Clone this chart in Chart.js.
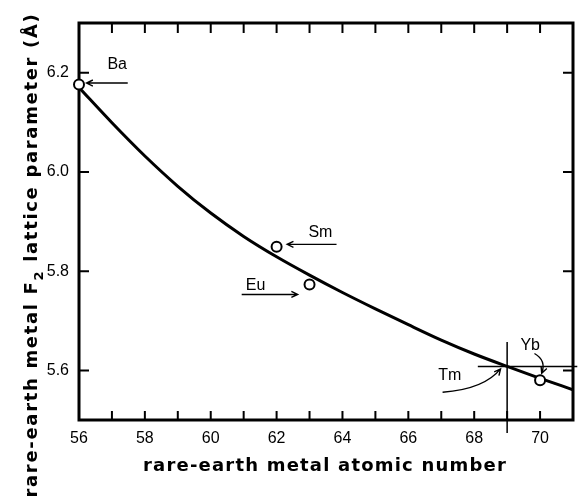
<!DOCTYPE html>
<html>
<head>
<meta charset="utf-8">
<script src="https://cdn.jsdelivr.net/npm/chart.js@4"></script>
<style>
    html, body { margin: 0; padding: 0; background: #fff; }
    canvas { display: block; }
</style>
</head>
<body>
<canvas id="chart" width="582" height="500"></canvas>
<script>
// --- Values ---
const elements = ['Ba', 'Sm', 'Eu', 'Yb'];
const atomicNumbers = [56, 62, 63, 70];
const latticeParams = [6.176, 5.849, 5.773, 5.580];

// fitted curve
const curveZ = [56, 57, 58, 59, 60, 61, 62, 63, 64, 65, 66, 67, 68, 69, 70, 71];
const curveA = [6.170, 6.099, 6.032, 5.971, 5.917, 5.870, 5.829, 5.792, 5.757, 5.724, 5.692, 5.661, 5.633, 5.608, 5.584, 5.561];

const tmZ = 69;
const tmA = 5.608;

const xTickValues = [56, 57, 58, 59, 60, 61, 62, 63, 64, 65, 66, 67, 68, 69, 70, 71];
const xTickLabels = [56, 58, 60, 62, 64, 66, 68, 70];
const yTickValues = [5.6, 5.8, 6.0, 6.2];

// --- Labels and arrows, in data units ---
const notes = [
    { text: 'Ba', at: [57.16, 6.216], from: [57.48, 6.179], to: [56.23, 6.179] },
    { text: 'Sm', at: [63.33, 5.878], from: [63.82, 5.854], to: [62.32, 5.854] },
    { text: 'Eu', at: [61.36, 5.771], from: [60.94, 5.753], to: [62.64, 5.753] },
    { text: 'Tm', at: [67.26, 5.589], from: [67.04, 5.556], ctrl: [68.3, 5.562], to: [68.8, 5.603] },
    { text: 'Yb', at: [69.70, 5.650], from: [69.83, 5.634], ctrl: [70.2, 5.620], to: [70.05, 5.594] }
];

function drawRuns(ctx, runs, target) {
    // draws text runs centred on 0, spread out to the target length
    ctx.letterSpacing = '0px';
    let w0 = 0, n = 0;
    runs.forEach(r => { ctx.font = r.font; w0 += ctx.measureText(r.text).width; n += r.text.length; });
    const spacing = Math.max(0, (target - w0) / n);
    ctx.letterSpacing = spacing + 'px';
    const widths = runs.map(r => { ctx.font = r.font; return ctx.measureText(r.text).width; });
    let xx = -widths.reduce((s, w) => s + w, 0) / 2;
    runs.forEach((r, i) => {
        ctx.font = r.font;
        ctx.fillText(r.text, xx, r.dy || 0);
        xx += widths[i];
    });
    ctx.letterSpacing = '0px';
}

function arrowHead(ctx, x1, y1, x2, y2) {
    const ang = Math.atan2(y2 - y1, x2 - x1);
    const len = 7;
    ctx.moveTo(x2 - len * Math.cos(ang - 0.45), y2 - len * Math.sin(ang - 0.45));
    ctx.lineTo(x2, y2);
    ctx.lineTo(x2 - len * Math.cos(ang + 0.45), y2 - len * Math.sin(ang + 0.45));
}

const frame = {
    id: 'frame',
    beforeDatasetsDraw(chart) {
        const { ctx, chartArea: a, scales: { x, y } } = chart;
        ctx.save();
        ctx.strokeStyle = '#000';
        ctx.lineWidth = 3;
        ctx.strokeRect(a.left, a.top, a.right - a.left, a.bottom - a.top);

        ctx.lineWidth = 2;
        ctx.beginPath();
        x.ticks.forEach(t => {
            const X = x.getPixelForValue(t.value);
            ctx.moveTo(X, a.bottom); ctx.lineTo(X, a.bottom - 9);
            ctx.moveTo(X, a.top); ctx.lineTo(X, a.top + 10);
        });
        y.ticks.forEach(t => {
            const Y = y.getPixelForValue(t.value);
            ctx.moveTo(a.left, Y); ctx.lineTo(a.left + 10, Y);
            ctx.moveTo(a.right, Y); ctx.lineTo(a.right - 10, Y);
        });
        ctx.stroke();
        ctx.restore();
    },
    afterDraw(chart) {
        const { ctx, scales: { x, y } } = chart;
        const P = p => [x.getPixelForValue(p[0]), y.getPixelForValue(p[1])];
        ctx.save();
        ctx.strokeStyle = '#000';
        ctx.fillStyle = '#000';

        // Tm crosshair
        ctx.lineWidth = 1.5;
        ctx.beginPath();
        ctx.moveTo(x.getPixelForValue(tmZ), y.getPixelForValue(5.657));
        ctx.lineTo(x.getPixelForValue(tmZ), y.getPixelForValue(5.474));
        ctx.moveTo(x.getPixelForValue(68.11), y.getPixelForValue(tmA));
        ctx.lineTo(x.getPixelForValue(71.13), y.getPixelForValue(tmA));
        ctx.stroke();

        // labels + arrows
        ctx.font = '16px "Liberation Sans"';
        ctx.textAlign = 'center';
        ctx.textBaseline = 'middle';
        ctx.lineWidth = 1.4;
        notes.forEach(n => {
            const [tx, ty] = P(n.at);
            ctx.fillText(n.text, tx, ty);
            const [x1, y1] = P(n.from);
            const [x2, y2] = P(n.to);
            ctx.beginPath();
            ctx.moveTo(x1, y1);
            if (n.ctrl) {
                const [cx, cy] = P(n.ctrl);
                ctx.quadraticCurveTo(cx, cy, x2, y2);
                arrowHead(ctx, cx, cy, x2, y2);
            } else {
                ctx.lineTo(x2, y2);
                arrowHead(ctx, x1, y1, x2, y2);
            }
            ctx.stroke();
        });

        // axis titles
        ctx.textAlign = 'left';
        ctx.textBaseline = 'alphabetic';
        const big = 'bold 18px "DejaVu Sans"';
        ctx.save();
        ctx.translate(325, 471);
        drawRuns(ctx, [{ text: 'rare-earth metal atomic number', font: big }], 364);
        ctx.restore();

        ctx.save();
        ctx.translate(37, 255);
        ctx.rotate(-Math.PI / 2);
        drawRuns(ctx, [
            { text: 'rare-earth metal F', font: big },
            { text: '2', font: 'bold 13px "DejaVu Sans"', dy: 6 },
            { text: ' lattice parameter (Å)', font: big }
        ], 485);
        ctx.restore();

        ctx.restore();
    }
};

new Chart(document.getElementById('chart'), {
    type: 'scatter',
    data: {
        datasets: [
            {
                label: 'mesures',
                data: atomicNumbers.map((z, i) => ({ x: z, y: latticeParams[i] })),
                pointRadius: 5,
                pointBorderWidth: 2,
                pointBackgroundColor: '#fff',
                pointBorderColor: '#000',
                showLine: false,
                clip: false
            },
            {
                label: 'courbe',
                data: curveZ.map((z, i) => ({ x: z, y: curveA[i] })),
                showLine: true,
                borderColor: '#000',
                borderWidth: 3,
                pointRadius: 0,
                cubicInterpolationMode: 'monotone',
                fill: false
            }
        ]
    },
    options: {
        responsive: false,
        animation: false,
        layout: { padding: { left: 0, top: 23, right: 4, bottom: 0 } },
        plugins: {
            legend: { display: false },
            tooltip: { enabled: false }
        },
        scales: {
            x: {
                type: 'linear',
                min: 56,
                max: 71,
                afterBuildTicks: ax => { ax.ticks = xTickValues.map(v => ({ value: v })); },
                afterFit: s => { s.height = 80; },
                grid: { display: false, drawTicks: false },
                border: { display: false },
                ticks: {
                    autoSkip: false,
                    maxRotation: 0,
                    padding: 9,
                    color: '#000',
                    font: { family: 'Liberation Sans', size: 16 },
                    callback: v => xTickLabels.includes(v) ? String(v) : ''
                }
            },
            y: {
                min: 5.5,
                max: 6.3,
                afterBuildTicks: ax => { ax.ticks = yTickValues.map(v => ({ value: v })); },
                afterFit: s => { s.width = 79; },
                grid: { display: false, drawTicks: false },
                border: { display: false },
                ticks: {
                    padding: 10,
                    color: '#000',
                    font: { family: 'Liberation Sans', size: 16 },
                    callback: v => v.toFixed(1)
                }
            }
        }
    },
    plugins: [frame]
});
</script>
</body>
</html>
